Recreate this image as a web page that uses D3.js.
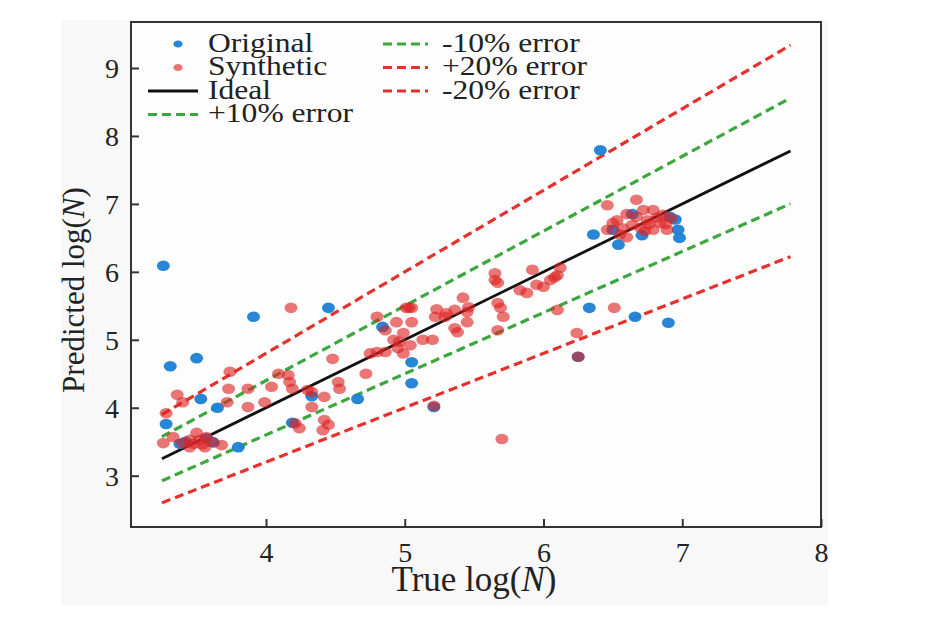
<!DOCTYPE html>
<html>
<head>
<meta charset="utf-8">
<script src="https://cdn.jsdelivr.net/npm/d3@7"></script>
<style>
  body { margin: 0; background: #fff; }
  svg text { font-family: "Liberation Serif", "Times New Roman", serif; fill: #222; }
</style>
</head>
<body>
<div id="chart"></div>
<script>
// blue points (Original)
const originalTrue = [3.26, 3.31, 3.50, 3.91, 4.45, 3.28, 3.53, 3.65, 3.38, 3.62, 3.80, 4.19, 4.33, 4.66, 4.84, 5.05, 5.05, 5.21,
    6.41, 6.33, 6.66, 6.90, 6.25, 6.36, 6.54, 6.71, 6.98, 6.97, 6.95, 6.64, 6.91, 6.50, 3.42, 3.57];
const originalPred = [6.09, 4.61, 4.73, 5.34, 5.47, 3.76, 4.13, 4.00, 3.47, 3.49, 3.42, 3.78, 4.17, 4.13, 5.19, 4.67, 4.36, 4.01,
    7.79, 5.47, 5.34, 5.25, 4.75, 6.55, 6.40, 6.54, 6.50, 6.62, 6.77, 6.85, 6.81, 6.62, 3.50, 3.55];

// red points (Synthetic)
const syntheticTrue = [3.26, 3.33, 3.40, 3.45, 3.45, 3.50, 3.52, 3.56, 3.57, 3.61, 3.68, 3.48, 3.54,
    3.28, 3.36, 3.40, 3.72, 3.73, 3.74, 3.87, 3.87, 3.99, 4.04, 4.09, 4.16, 4.17, 4.19, 4.18, 4.21, 4.24,
    4.30, 4.33, 4.33, 4.42, 4.42, 4.45, 4.41, 4.52, 4.53, 4.48, 4.72, 4.75, 4.80, 4.80, 4.86, 4.94, 4.96,
    4.99, 5.04, 4.95, 4.99, 5.05, 5.05, 5.03, 5.01, 4.86, 4.92, 5.13, 5.20, 5.23, 5.22, 5.29, 5.30, 5.36,
    5.42, 5.46, 5.45, 5.45, 5.36, 5.38, 5.21,
    5.65, 5.65, 5.67, 5.67, 5.69, 5.71, 5.67, 5.70, 5.83, 5.88, 5.92, 5.95, 6.00, 6.05, 6.08, 6.12, 6.10,
    6.10, 6.24, 6.25, 6.51,
    6.46, 6.67, 6.53, 6.46, 6.60, 6.64, 6.72, 6.79, 6.86, 6.84, 6.75, 6.79, 6.89, 6.67, 6.57, 6.50, 6.92,
    6.70, 6.82, 6.60, 6.76, 6.88, 6.55, 6.73];
const syntheticPred = [3.48, 3.57, 3.48, 3.42, 3.53, 3.63, 3.53, 3.42, 3.57, 3.50, 3.45, 3.47, 3.46,
    3.92, 4.19, 4.08, 4.08, 4.28, 4.53, 4.28, 4.01, 4.08, 4.31, 4.50, 4.48, 4.38, 4.28, 5.47, 3.77, 3.70,
    4.26, 4.23, 4.01, 4.16, 3.82, 3.75, 3.67, 4.38, 4.28, 4.72, 4.50, 4.80, 4.82, 5.34, 5.14, 5.26, 4.97,
    5.10, 4.92, 4.88, 4.80, 5.26, 5.47, 5.47, 5.47, 4.82, 5.00, 5.00, 5.00, 5.45, 5.34, 5.34, 5.39, 5.44,
    5.62, 5.48, 5.41, 5.26, 5.17, 5.11, 4.03,
    5.98, 5.88, 5.84, 5.54, 5.47, 5.34, 5.14, 3.54, 5.73, 5.69, 6.03, 5.81, 5.78, 5.88, 5.92, 6.06, 5.95,
    5.44, 5.10, 4.75, 5.47,
    6.98, 7.06, 6.76, 6.62, 6.51, 6.69, 6.91, 6.91, 6.84, 6.72, 6.76, 6.62, 6.62, 6.81, 6.64, 6.72, 6.79,
    6.65, 6.80, 6.85, 6.70, 6.70, 6.55, 6.60];

// reference lines: y = factor * x
const lineExtent = [3.25, 7.78];
const refLines = [
    { name: "Ideal", factor: 1.0, color: "#111", dash: null },
    { name: "+10% error", factor: 1.1, color: "#3aa83c", dash: "9,5" },
    { name: "-10% error", factor: 0.9, color: "#3aa83c", dash: "9,5" },
    { name: "+20% error", factor: 1.2, color: "#e5302c", dash: "9,5" },
    { name: "-20% error", factor: 0.8, color: "#e5302c", dash: "9,5" }
];

const xTicks = [4, 5, 6, 7, 8];
const yTicks = [3, 4, 5, 6, 7, 8, 9];

const W = 936, H = 630;
const plot = { left: 131, right: 821, top: 22, bottom: 527 };

const svg = d3.select("#chart").append("svg")
    .attr("width", W)
    .attr("height", H);

// light grey figure background
svg.append("rect")
    .attr("x", 61).attr("y", 20)
    .attr("width", 767).attr("height", 585)
    .attr("fill", "#f8f8f8");

svg.append("rect")
    .attr("x", plot.left).attr("y", plot.top)
    .attr("width", plot.right - plot.left).attr("height", plot.bottom - plot.top)
    .attr("fill", "#fdfdfd");

const x = d3.scaleLinear().domain([3.027, 8]).range([plot.left, plot.right]);
const y = d3.scaleLinear().domain([2.245, 9.677]).range([plot.bottom, plot.top]);

// reference lines
const line = d3.line().x(d => x(d[0])).y(d => y(d[1]));
svg.selectAll(".ref")
    .data(refLines)
    .enter().append("path")
    .attr("class", "ref")
    .attr("d", d => line(lineExtent.map(v => [v, v * d.factor])))
    .attr("fill", "none")
    .attr("stroke", d => d.color)
    .attr("stroke-width", d => d.dash ? 3.2 : 2.8)
    .attr("stroke-dasharray", d => d.dash);

// points
const original = originalTrue.map((v, i) => [v, originalPred[i]]);
const synthetic = syntheticTrue.map((v, i) => [v, syntheticPred[i]]);

svg.append("g").selectAll("ellipse")
    .data(original)
    .enter().append("ellipse")
    .attr("cx", d => x(d[0]))
    .attr("cy", d => y(d[1]))
    .attr("rx", 6.5).attr("ry", 5.3)
    .attr("fill", "#1c80d4")
    .attr("opacity", 0.95);

svg.append("g").selectAll("ellipse")
    .data(synthetic)
    .enter().append("ellipse")
    .attr("cx", d => x(d[0]))
    .attr("cy", d => y(d[1]))
    .attr("rx", 6.5).attr("ry", 5.3)
    .attr("fill", "#dd2222")
    .attr("opacity", 0.62);

// axes frame + inward ticks
svg.append("rect")
    .attr("x", plot.left).attr("y", plot.top)
    .attr("width", plot.right - plot.left).attr("height", plot.bottom - plot.top)
    .attr("fill", "none")
    .attr("stroke", "#333")
    .attr("stroke-width", 2);

const xAxis = svg.append("g")
    .attr("transform", `translate(0,${plot.bottom})`)
    .call(d3.axisBottom(x).tickValues(xTicks).tickSize(-8).tickPadding(15).tickFormat(d3.format("d")));
const yAxis = svg.append("g")
    .attr("transform", `translate(${plot.left},0)`)
    .call(d3.axisLeft(y).tickValues(yTicks).tickSize(-8).tickPadding(12).tickFormat(d3.format("d")));

[xAxis, yAxis].forEach(a => {
    a.attr("font-family", null).attr("font-size", null);
    a.select(".domain").remove();
    a.selectAll(".tick line").attr("stroke", "#333").attr("stroke-width", 2);
    a.selectAll(".tick text")
        .attr("font-size", 28)
        .attr("fill", "#222");
});
xAxis.selectAll(".tick text").attr("dy", "0.71em");
yAxis.selectAll(".tick text").attr("dy", "0.34em");

// axis titles
const xt = svg.append("text")
    .attr("x", 474).attr("y", 591)
    .attr("text-anchor", "middle")
    .attr("font-size", 35);
xt.append("tspan").text("True log(");
xt.append("tspan").attr("font-style", "italic").text("N");
xt.append("tspan").text(")");

const yt = svg.append("text")
    .attr("transform", "translate(84,290) rotate(-90)")
    .attr("text-anchor", "middle")
    .attr("font-size", 31);
yt.append("tspan").text("Predicted log(");
yt.append("tspan").attr("font-style", "italic").text("N");
yt.append("tspan").text(")");

// legend
const legendItems = [
    { label: "Original", type: "dot", color: "#1c80d4", opacity: 0.95, col: 0, row: 0 },
    { label: "Synthetic", type: "dot", color: "#dd2222", opacity: 0.62, col: 0, row: 1 },
    { label: "Ideal", type: "line", ref: refLines[0], col: 0, row: 2 },
    { label: "+10% error", type: "line", ref: refLines[1], col: 0, row: 3 },
    { label: "-10% error", type: "line", ref: refLines[2], col: 1, row: 0 },
    { label: "+20% error", type: "line", ref: refLines[3], col: 1, row: 1 },
    { label: "-20% error", type: "line", ref: refLines[4], col: 1, row: 2 }
];
const colX = [{ mark: 148, text: 208 }, { mark: 383, text: 442 }];
const rowY0 = 44, rowStep = 23.5;

const legend = svg.append("g").selectAll("g")
    .data(legendItems)
    .enter().append("g")
    .attr("transform", d => `translate(0,${rowY0 + d.row * rowStep})`);

legend.filter(d => d.type === "dot").append("ellipse")
    .attr("cx", 178).attr("cy", 0)
    .attr("rx", 4.6).attr("ry", 3.6)
    .attr("fill", d => d.color)
    .attr("opacity", d => d.opacity);

legend.filter(d => d.type === "line").append("line")
    .attr("x1", d => colX[d.col].mark)
    .attr("x2", d => colX[d.col].mark + (d.col === 0 ? 50 : 45))
    .attr("y1", 0).attr("y2", 0)
    .attr("stroke", d => d.ref.color)
    .attr("stroke-width", d => d.ref.dash ? 3.2 : 2.8)
    .attr("stroke-dasharray", d => d.ref.dash);

legend.append("text")
    .attr("transform", d => `translate(${colX[d.col].text},7.5) scale(1.17,1)`)
    .attr("font-size", 27)
    .text(d => d.label);
</script>
</body>
</html>
